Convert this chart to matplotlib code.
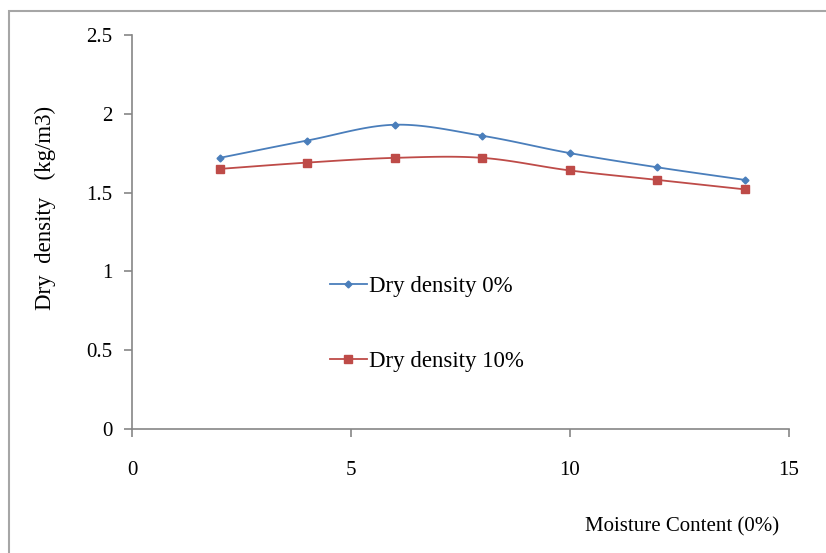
import numpy as np
import matplotlib
matplotlib.use("Agg")
import matplotlib.pyplot as plt
from matplotlib.patches import Rectangle

# data
moisture = [2, 4, 6, 8, 10, 12, 14]
dry_density_0 = [1.72, 1.83, 1.93, 1.86, 1.75, 1.66, 1.58]
dry_density_10 = [1.65, 1.69, 1.72, 1.72, 1.64, 1.58, 1.52]
series_labels = ["Dry density 0%", "Dry density 10%"]
x_ticks = [0, 5, 10, 15]
y_ticks = [0, 0.5, 1, 1.5, 2, 2.5]
y_tick_labels = ["0", "0.5", "1", "1.5", "2", "2.5"]


def smooth(x, y, n=20):
    # catmull-rom curve through the points, like the excel "smoothed line"
    x = np.asarray(x, float)
    y = np.asarray(y, float)
    px = np.concatenate([[2 * x[0] - x[1]], x, [2 * x[-1] - x[-2]]])
    py = np.concatenate([[2 * y[0] - y[1]], y, [2 * y[-1] - y[-2]]])
    xs, ys = [], []
    t = np.linspace(0, 1, n, endpoint=False)
    for i in range(1, len(px) - 2):
        for arr, out in ((px, xs), (py, ys)):
            p0, p1, p2, p3 = arr[i - 1], arr[i], arr[i + 1], arr[i + 2]
            out.extend(0.5 * ((2 * p1) + (-p0 + p2) * t
                              + (2 * p0 - 5 * p1 + 4 * p2 - p3) * t ** 2
                              + (-p0 + 3 * p1 - 3 * p2 + p3) * t ** 3))
    xs.append(x[-1])
    ys.append(y[-1])
    return np.array(xs), np.array(ys)


plt.rcParams['font.family'] = ['Liberation Serif', 'DejaVu Serif']

fig = plt.figure(figsize=(8.26, 5.53), dpi=100)
ax = fig.add_axes([0.160, 0.224, 0.795, 0.713])

# outer frame of the chart area (runs off the right and bottom edges)
fig.patches.append(Rectangle((9 / 826, -0.1), 1.2, 1.1 - 11 / 553, transform=fig.transFigure,
                             fill=False, edgecolor="#a6a6a6", lw=1.5))

colors = ["#4a7ebb", "#be4b48"]
markers = ["D", "s"]
msizes = [3.5, 6]
for ys, lab, c, m, ms in zip([dry_density_0, dry_density_10], series_labels, colors, markers, msizes):
    sx, sy = smooth(moisture, ys)
    ax.plot(sx, sy, color=c, lw=1.3)
    ax.plot(moisture, ys, ls="none", marker=m, color=c, ms=ms)
    # legend proxy
    ax.plot([], [], color=c, lw=1.3, marker=m, ms=ms, label=lab)

ax.set_xlim(0, 15)
ax.set_ylim(0, 2.5)
ax.set_xticks(x_ticks)
ax.set_yticks(y_ticks)
ax.set_yticklabels(y_tick_labels)

for s in ["top", "right"]:
    ax.spines[s].set_visible(False)
for s in ["left", "bottom"]:
    ax.spines[s].set_color("#868686")
    ax.spines[s].set_linewidth(1.2)
ax.tick_params(axis="both", colors="#868686", length=6, width=1.2, labelsize=15, labelcolor="black")
ax.tick_params(axis="x", pad=17)
ax.tick_params(axis="y", pad=8)

ax.legend(loc="upper left", bbox_to_anchor=(0.27, 0.44), frameon=False, fontsize=16.5,
          labelspacing=2.35, handlelength=1.6, handletextpad=0.1)

fig.text(45 / 826, 1 - 208 / 553, "Dry  density   (kg/m3)", rotation=90, ha="center", va="center", fontsize=16.5)
fig.text(682 / 826, 1 - 527 / 553, "Moisture Content (0%)", ha="center", va="center", fontsize=15)

fig.savefig("out.png", dpi=100)
